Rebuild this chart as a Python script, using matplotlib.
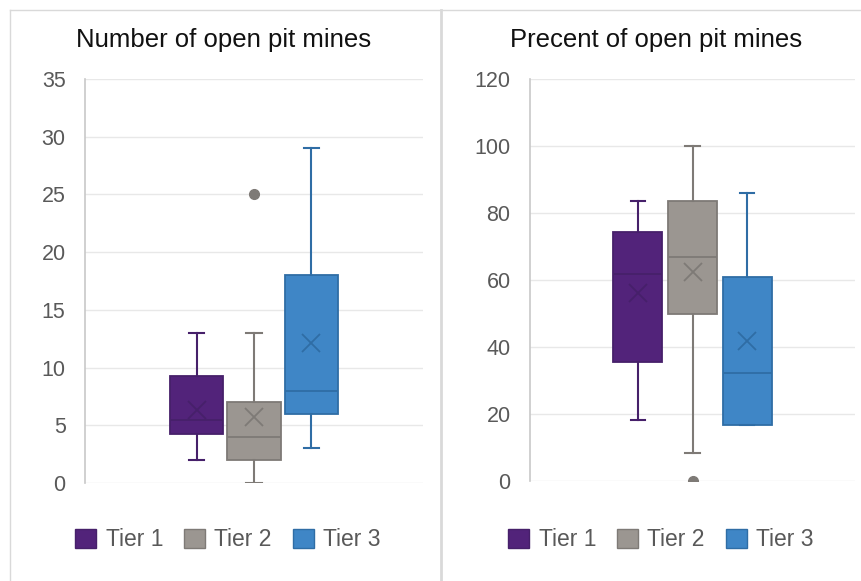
import matplotlib
matplotlib.use("Agg")
import matplotlib.pyplot as plt
from matplotlib.patches import Patch
from matplotlib.lines import Line2D

plt.rcParams['font.family'] = ['Liberation Sans', 'DejaVu Sans']

# tiers and colours
tiers = ["Tier 1", "Tier 2", "Tier 3"]
face_colors = ["#52237A", "#9B9691", "#3F86C6"]
edge_colors = ["#46206A", "#7E7A76", "#2F6DA5"]

# Number of open pit mines
count_whislo = [2, 0, 3]
count_q1 = [4.25, 2, 6]
count_med = [5.5, 4, 8]
count_q3 = [9.25, 7, 18]
count_whishi = [13, 13, 29]
count_mean = [6.3, 5.7, 12.1]
count_fliers = [[], [25], []]

# Percent of open pit mines
pct_whislo = [18.2, 8.5, 16.6]
pct_q1 = [35.4, 50, 16.6]
pct_med = [61.8, 66.8, 32.1]
pct_q3 = [74.3, 83.5, 61]
pct_whishi = [83.5, 100, 85.9]
pct_mean = [56.2, 62.5, 41.9]
pct_fliers = [[], [0], []]

W, H = 861, 581
fig = plt.figure(figsize=(W / 100, H / 100), dpi=100)


def fx(px):
    return px / W


def fy(py):
    return 1 - py / H


# panel frame lines
frame = "#D9D9D9"
fig.add_artist(Line2D([fx(10), 1], [fy(10), fy(10)], color=frame, lw=1))
fig.add_artist(Line2D([fx(10), fx(10)], [fy(10), 0], color=frame, lw=1))
fig.add_artist(Line2D([fx(441), fx(441)], [fy(10), 0], color=frame, lw=2))


def draw_panel(rect, title, title_x, ylim, yticks, whislo, q1, med, q3, whishi,
               mean, fliers, bw, step, legend_x):
    ax = fig.add_axes(rect)
    stats = []
    for i in range(3):
        stats.append(dict(whislo=whislo[i], q1=q1[i], med=med[i], q3=q3[i],
                          whishi=whishi[i], mean=mean[i], fliers=fliers[i]))
    positions = [0.5 - step, 0.5, 0.5 + step]
    for i in range(3):
        ec = edge_colors[i]
        ax.bxp([stats[i]], positions=[positions[i]], widths=bw,
               patch_artist=True, showmeans=True, capwidths=bw * 0.3,
               boxprops=dict(facecolor=face_colors[i], edgecolor=ec, lw=1.3),
               medianprops=dict(color=ec, lw=1.3),
               whiskerprops=dict(color=ec, lw=1.5),
               capprops=dict(color=ec, lw=1.5),
               meanprops=dict(marker="x", markeredgecolor=ec, markersize=13,
                              markeredgewidth=1.3),
               flierprops=dict(marker="o", markerfacecolor=edge_colors[i],
                               markeredgecolor=edge_colors[i], markersize=7))
    ax.set_xlim(0, 1)
    ax.set_ylim(*ylim)
    ax.set_yticks(yticks)
    ax.set_xticks([])
    ax.yaxis.grid(True, color="#E8E8E8", lw=1)
    ax.set_axisbelow(True)
    for s in ["top", "right", "bottom"]:
        ax.spines[s].set_visible(False)
    ax.spines["left"].set_color("#C8C8C8")
    ax.spines["left"].set_linewidth(1.2)
    ax.tick_params(axis="y", length=0, pad=14, labelsize=15.5, labelcolor="#595959")
    fig.text(fx(title_x), fy(40), title, ha="center", va="center",
             fontsize=18.5, color="#111111")
    handles = [Patch(facecolor=face_colors[i], edgecolor=edge_colors[i], lw=1)
               for i in range(3)]
    fig.legend(handles, tiers, loc="center", ncol=3, frameon=False,
               bbox_to_anchor=(fx(legend_x), fy(540)), fontsize=16.5,
               labelcolor="#595959", handlelength=0.92, handleheight=0.92,
               handletextpad=0.4, columnspacing=0.92)
    return ax


draw_panel([fx(85), fy(483), fx(423) - fx(85), fy(79) - fy(483)],
           "Number of open pit mines", 224, (0, 35), range(0, 36, 5),
           count_whislo, count_q1, count_med, count_q3, count_whishi,
           count_mean, count_fliers, 0.157, 0.17, 228)

draw_panel([fx(530), fy(481), fx(855) - fx(530), fy(79) - fy(481)],
           "Precent of open pit mines", 656, (0, 120), range(0, 121, 20),
           pct_whislo, pct_q1, pct_med, pct_q3, pct_whishi,
           pct_mean, pct_fliers, 0.151, 0.168, 661)

fig.savefig("out.png", dpi=100)
